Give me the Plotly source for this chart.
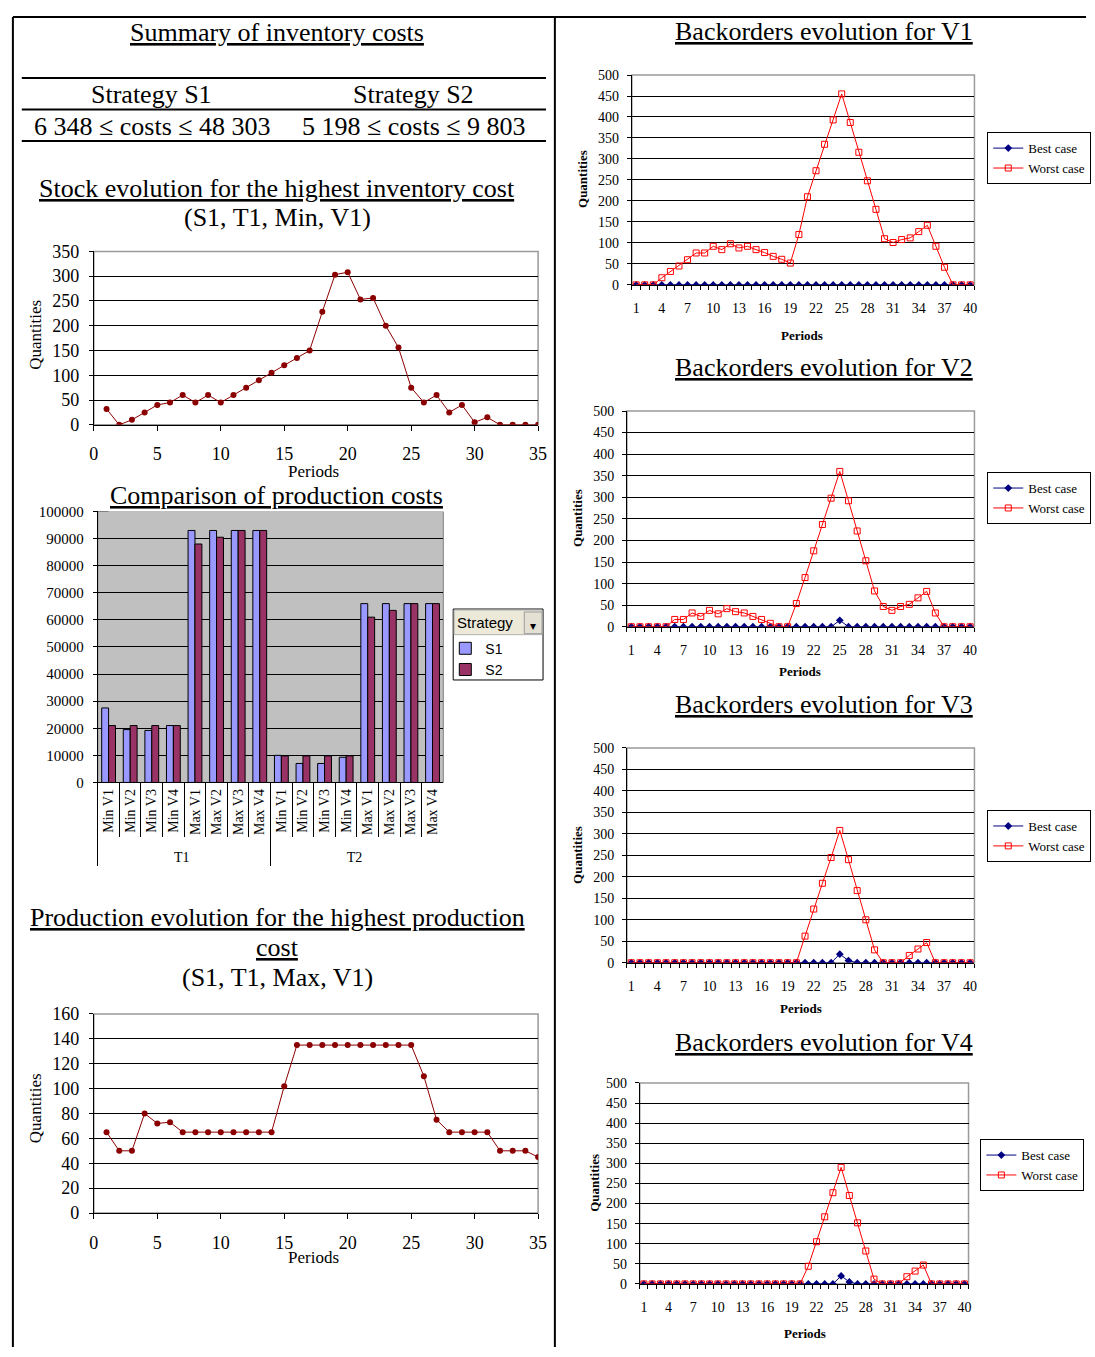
import plotly.graph_objects as go

W, H = 1095, 1357
SERIF = "Liberation Serif"
SANS = "Liberation Sans"

# ---------------- data ----------------
stock_periods = list(range(1, 36))
stock_values = [32, 0, 10, 25, 40, 45, 60, 45, 60, 45, 60, 75, 90, 105, 120, 135, 150,
                228, 303, 308, 253, 256, 200, 156, 75, 45, 60, 25, 40, 5, 15, 0, 0, 0, 0]

prod_periods = list(range(1, 37))
prod_values = [65, 50, 50, 80, 72, 73, 65, 65, 65, 65, 65, 65, 65, 65, 102, 135, 135, 135,
               135, 135, 135, 135, 135, 135, 135, 110, 75, 65, 65, 65, 65, 50, 50, 50, 45, 0]

cost_groups = ["T1"] * 8 + ["T2"] * 8
cost_cats = ["Min V1", "Min V2", "Min V3", "Min V4", "Max V1", "Max V2", "Max V3", "Max V4"] * 2
cost_s1 = [27500, 19500, 19200, 21000, 93000, 93000, 93000, 93000,
           10000, 7000, 7000, 9300, 66000, 66000, 66000, 66000]
cost_s2 = [21000, 21000, 21000, 21000, 88000, 90500, 93000, 93000,
           9800, 9800, 9800, 9800, 61000, 63500, 66000, 66000]

bo_periods = list(range(1, 41))
v1_best = [0] * 40
v1_worst = [0, 0, 0, 17, 32, 45, 60, 76, 76, 92, 84, 98, 88, 92, 84, 77, 68, 61, 52, 120,
            210, 272, 335, 393, 455, 387, 316, 248, 180, 110, 101, 108, 112, 127, 142, 92, 42, 0, 0, 0]
v2_best = [0] * 24 + [15] + [0] * 15
v2_worst = [0, 0, 0, 0, 0, 17, 17, 32, 24, 38, 30, 42, 35, 32, 24, 17, 8, 0, 0, 54,
            114, 176, 237, 298, 360, 292, 222, 153, 83, 47, 38, 47, 52, 67, 82, 32, 0, 0, 0, 0]
v3_best = [0] * 24 + [20, 5] + [0] * 14
v3_worst = [0] * 20 + [62, 125, 185, 245, 308, 240, 168, 100, 30, 0, 0, 0, 17, 32, 47, 0, 0, 0, 0, 0]
v4_best = [0] * 24 + [20, 5] + [0] * 14
v4_worst = [0] * 20 + [44, 105, 167, 227, 290, 220, 152, 82, 12, 0, 0, 0, 18, 32, 47, 0, 0, 0, 0, 0]

bo_ticks = list(range(1, 41, 3))


def fx(px):
    return px / W


def fy(py):
    return 1 - py / H


fig = go.Figure()

# ---------------- traces ----------------
fig.add_trace(go.Scatter(x=stock_periods, y=stock_values, mode="lines+markers",
                         line=dict(color="#8B0000", width=1),
                         marker=dict(color="#8B0000", size=6),
                         xaxis="x", yaxis="y", showlegend=False))

fig.add_trace(go.Bar(x=[cost_groups, cost_cats], y=cost_s1, name="S1",
                     marker=dict(color="#9999FF", line=dict(color="black", width=1)),
                     xaxis="x2", yaxis="y2", legend="legend"))
fig.add_trace(go.Bar(x=[cost_groups, cost_cats], y=cost_s2, name="S2",
                     marker=dict(color="#993366", line=dict(color="black", width=1)),
                     xaxis="x2", yaxis="y2", legend="legend"))

fig.add_trace(go.Scatter(x=prod_periods, y=prod_values, mode="lines+markers",
                         line=dict(color="#8B0000", width=1),
                         marker=dict(color="#8B0000", size=6),
                         xaxis="x3", yaxis="y3", showlegend=False))

bo_series = [(v1_best, v1_worst), (v2_best, v2_worst), (v3_best, v3_worst), (v4_best, v4_worst)]
for i, (best, worst) in enumerate(bo_series):
    ax = str(4 + i)
    lg = "legend" + str(2 + i)
    fig.add_trace(go.Scatter(x=bo_periods, y=best, mode="lines+markers", name="Best case",
                             line=dict(color="#000080", width=1),
                             marker=dict(color="#000080", size=6, symbol="diamond"),
                             xaxis="x" + ax, yaxis="y" + ax, legend=lg))
    fig.add_trace(go.Scatter(x=bo_periods, y=worst, mode="lines+markers", name="Worst case",
                             line=dict(color="#FF0000", width=1),
                             marker=dict(color="#FF0000", size=6, symbol="square-open"),
                             xaxis="x" + ax, yaxis="y" + ax, legend=lg))

# ---------------- axes ----------------
def yax(dom, rng, dtick, size, standoff, anchor):
    return dict(domain=[fy(dom[1]), fy(dom[0])], range=rng, dtick=dtick, tick0=0,
                showgrid=True, gridcolor="black", gridwidth=1, zeroline=False,
                showline=True, linecolor="black", linewidth=1,
                ticks="outside", ticklen=4, tickcolor="black",
                ticklabelstandoff=standoff,
                tickfont=dict(family=SERIF, size=size, color="black"),
                anchor=anchor, fixedrange=True)


layout = dict(
    width=W, height=H, margin=dict(l=0, r=0, t=0, b=0),
    paper_bgcolor="white", plot_bgcolor="rgba(0,0,0,0)",
    barmode="group", bargap=0.36, bargroupgap=0.0,
)

# stock chart
layout["xaxis"] = dict(domain=[fx(90), fx(540)], range=[0, 35], tick0=0, dtick=5,
                       showgrid=False, zeroline=False, showline=True, linecolor="black",
                       ticks="outside", ticklen=5, tickcolor="black", ticklabelstandoff=8,
                       tickfont=dict(family=SERIF, size=18, color="black"), anchor="y",
                       fixedrange=True)
layout["yaxis"] = yax((245, 421), [0, 350], 50, 18, 6, "x")

# bar chart
layout["xaxis2"] = dict(domain=[fx(94), fx(444)], type="multicategory", anchor="y2",
                        showgrid=False, zeroline=False, showline=True, linecolor="black",
                        ticks="outside", tickson="boundaries", ticklen=54, tickcolor="black",
                        tickangle=-90, showdividers=True, dividercolor="black", dividerwidth=1,
                        tickfont=dict(family=SERIF, size=14, color="black"), fixedrange=True)
layout["yaxis2"] = yax((509, 784), [0, 100000], 10000, 15, 6, "x2")
layout["yaxis2"]["tickformat"] = "d"

# production chart
layout["xaxis3"] = dict(domain=[fx(90), fx(540)], range=[0, 35], tick0=0, dtick=5,
                        showgrid=False, zeroline=False, showline=True, linecolor="black",
                        ticks="outside", ticklen=5, tickcolor="black", ticklabelstandoff=8,
                        tickfont=dict(family=SERIF, size=18, color="black"), anchor="y3",
                        fixedrange=True)
layout["yaxis3"] = yax((1019, 1221), [0, 160], 20, 18, 6, "x3")

# backorder charts
bo_boxes = [((635, 982), (66, 279)), ((630, 982), (407, 626)),
            ((630, 982), (749, 967)), ((643, 976), (1089, 1293))]
for i, ((x0, x1), (y0, y1)) in enumerate(bo_boxes):
    n = str(4 + i)
    layout["xaxis" + n] = dict(domain=[fx(x0), fx(x1)], range=[0.5, 40.5],
                               tickmode="array", tickvals=bo_ticks,
                               showgrid=False, zeroline=False, showline=True, linecolor="black",
                               ticks="", ticklabelstandoff=10,
                               minor=dict(tick0=0.5, dtick=1, ticks="outside", ticklen=4,
                                          tickcolor="black", showgrid=False),
                               tickfont=dict(family=SERIF, size=14, color="black"),
                               anchor="y" + n, fixedrange=True)
    layout["yaxis" + n] = yax((y0, y1), [0, 500], 50, 14, 5, "x" + n)

# ---------------- legends ----------------
layout["legend"] = dict(x=fx(446), y=fy(632), xanchor="left", yanchor="top",
                        bgcolor="rgba(0,0,0,0)", borderwidth=0,
                        font=dict(family=SANS, size=14, color="black"),
                        itemwidth=30, tracegroupgap=0)
leg_pos = [(995, 124), (995, 469), (995, 812), (988, 1146)]
for i, (lx, ly) in enumerate(leg_pos):
    layout["legend" + str(2 + i)] = dict(x=fx(lx), y=fy(ly), xanchor="left", yanchor="top",
                                         bgcolor="white", bordercolor="black", borderwidth=1,
                                         font=dict(family=SERIF, size=13, color="black"),
                                         itemwidth=30, tracegroupgap=0)

# ---------------- shapes ----------------
shapes = []
# page frame and divider
shapes.append(dict(type="line", xref="paper", yref="paper", x0=fx(8), x1=fx(8), y0=fy(7), y1=0,
                   line=dict(color="black", width=2)))
shapes.append(dict(type="line", xref="paper", yref="paper", x0=fx(8), x1=1, y0=fy(7), y1=fy(7),
                   line=dict(color="black", width=2)))
shapes.append(dict(type="line", xref="paper", yref="paper", x0=fx(557), x1=fx(557), y0=fy(7), y1=0,
                   line=dict(color="black", width=2)))
# summary table rules
for ry in (69, 101, 133):
    shapes.append(dict(type="line", xref="paper", yref="paper", x0=fx(17), x1=fx(548),
                       y0=fy(ry), y1=fy(ry), line=dict(color="black", width=2)))
# plot area borders
for n in ["", "3", "4", "5", "6", "7"]:
    shapes.append(dict(type="rect", xref="x%s domain" % n, yref="y%s domain" % n,
                       x0=0, x1=1, y0=0, y1=1, layer="below",
                       line=dict(color="#9A9A9A", width=1.5)))
# bar chart grey plot area
shapes.append(dict(type="rect", xref="x2 domain", yref="y2 domain", x0=0, x1=1, y0=0, y1=1,
                   layer="below", fillcolor="#C0C0C0", line=dict(color="#808080", width=1)))
# bar legend box (cut by the cell edge on its right)
shapes.append(dict(type="rect", xref="paper", yref="paper", x0=fx(454), x1=fx(545),
                   y0=fy(680), y1=fy(608), fillcolor="white", line=dict(color="black", width=1),
                   layer="below"))
shapes.append(dict(type="rect", xref="paper", yref="paper", x0=fx(455), x1=fx(544),
                   y0=fy(634), y1=fy(609), fillcolor="#ECE9D8", line=dict(color="#B0B0B0", width=1),
                   layer="below"))
shapes.append(dict(type="rect", xref="paper", yref="paper", x0=fx(526), x1=fx(544),
                   y0=fy(633), y1=fy(611), fillcolor="#E4E1D4", line=dict(color="#9A9A9A", width=1),
                   layer="below"))
shapes.append(dict(type="rect", xref="paper", yref="paper", x0=fx(549), x1=fx(556),
                   y0=fy(690), y1=fy(600), fillcolor="white", line=dict(width=0),
                   layer="below"))
layout["shapes"] = shapes

# ---------------- annotations ----------------
ann = []


def text(t, x, y, size, family=SERIF, angle=0, bold=False, bg=None, xanchor="center"):
    d = dict(text=("<b>%s</b>" % t) if bold else t, xref="paper", yref="paper",
             x=fx(x), y=fy(y), xanchor=xanchor, yanchor="middle", showarrow=False,
             textangle=angle, font=dict(family=family, size=size, color="black"))
    if bg:
        d["bgcolor"] = bg
    ann.append(d)


text("<u>Summary of inventory costs</u>", 276, 23, 26)
text("Strategy S1", 148, 86, 26)
text("Strategy S2", 414, 86, 26)
text("6 348 ≤ costs ≤ 48 303", 149, 118, 26)
text("5 198 ≤ costs ≤ 9 803", 414, 118, 26)
text("<u>Stock evolution for the highest inventory cost</u>", 276, 181, 26)
text("(S1, T1, Min, V1)", 276, 211, 26)
text("Periods", 313, 468, 17)
text("Quantities", 31, 330, 17, angle=-90)
text("<u>Comparison of production costs</u>", 275, 493, 26, bg="white")
text("Strategy", 456, 622, 15, family=SANS, xanchor="left")
text("▾", 535, 625, 12, family=SANS)
text("<u>Production evolution for the highest production</u>", 276, 921, 26)
text("<u>cost</u>", 276, 952, 26)
text("(S1, T1, Max, V1)", 276, 982, 26)
text("Periods", 313, 1266, 17)
text("Quantities", 31, 1115, 17, angle=-90)

bo_titles = [("V1", 830, 22), ("V2", 830, 363), ("V3", 830, 705), ("V4", 830, 1048)]
for name, tx, ty in bo_titles:
    text("<u>Backorders evolution for %s</u>" % name, tx, ty, 26)
bo_axis_labels = [(807, 330, 585, 172), (805, 671, 580, 516), (806, 1013, 580, 858), (810, 1343, 597, 1190)]
for px_, py_, qx, qy in bo_axis_labels:
    text("Periods", px_, py_, 13, bold=True)
    text("Quantities", qx, qy, 13, angle=-90, bold=True)

layout["annotations"] = ann

fig.update_layout(**layout)
fig.write_html("out.html", config={"displayModeBar": False},
               post_script="document.body.style.margin='0';document.body.style.overflow='hidden';")
